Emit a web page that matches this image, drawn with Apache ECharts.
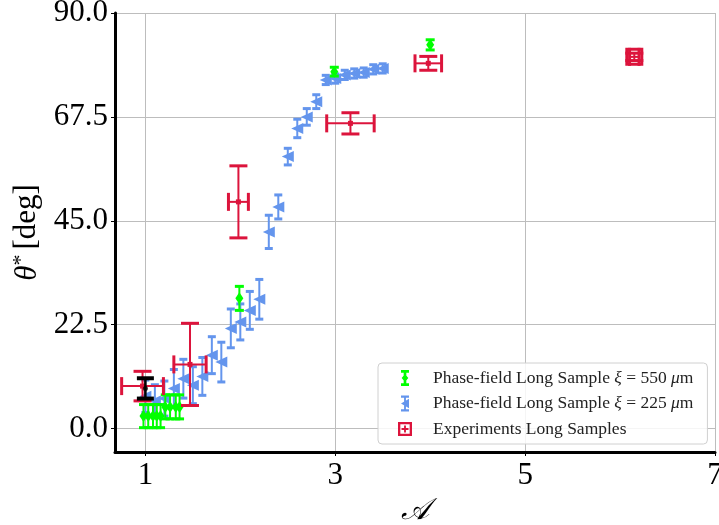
<!DOCTYPE html>
<html lang="en">
<head>
    <meta charset="UTF-8">
    <title>theta vs A</title>
    <script src="https://cdn.jsdelivr.net/npm/echarts@6/dist/echarts.min.js"></script>
    <style>
        body { margin: 0; background: #fff; }
        #main { width: 719px; height: 525px; }
    </style>
</head>
<body>
    <div id="main"></div>
    <script>
        // ---- data ----
        // experiments (crimson): x, y, x-error, y-error
        const expX = [0.97, 1.47, 1.98, 3.16, 3.98, 6.15];
        const expY = [9.2, 13.9, 49.1, 66.1, 79.1, 80.5];
        const expXErr = [0.22, 0.17, 0.105, 0.25, 0.14, 0.05];
        const expYErr = [3.2, 8.9, 7.8, 2.3, 1.5, 0.8];

        // phase-field xi = 550 um (green)
        const pf550X = [0.98, 1.03, 1.08, 1.12, 1.16, 1.21, 1.26, 1.32, 1.36, 1.99, 2.99, 4.0];
        const pf550Y = [2.7, 2.7, 2.7, 2.7, 2.7, 4.7, 4.7, 4.7, 4.7, 28.2, 77.3, 83.1];
        const pf550Err = [2.5, 2.5, 2.5, 2.5, 2.5, 2.6, 2.6, 2.6, 2.6, 2.6, 0.95, 1.1];

        // phase-field xi = 225 um (blue)
        const pf225X = [1.0, 1.1, 1.2, 1.3, 1.4, 1.5, 1.6, 1.7, 1.8, 1.9, 2.0, 2.1, 2.2,
                        2.3, 2.4, 2.5, 2.6, 2.7, 2.8, 2.9, 3.0, 3.1, 3.2, 3.3, 3.4, 3.5];
        const pf225Y = [7.0, 6.0, 6.5, 8.7, 10.8, 9.4, 11.3, 15.9, 14.4, 21.7, 23.1, 25.6, 28.0,
                        42.6, 48.0, 58.9, 65.0, 67.5, 70.8, 75.5, 75.8, 76.6, 76.9, 77.1, 77.8, 78.0];
        const pf225Err = [3.5, 3.5, 3.8, 4.1, 4.2, 4.0, 4.1, 4.0, 4.3, 4.2, 3.9, 4.1, 4.3,
                          3.6, 2.6, 1.8, 2.0, 1.8, 1.5, 1.0, 1.0, 1.0, 1.0, 1.0, 1.0, 1.0];

        // extra black point near A = 1
        const refX = [1.0];
        const refY = [8.7];
        const refErr = [2.2];

        const xTicks = [1, 3, 5, 7];
        const yTicks = [0, 22.5, 45, 67.5, 90];

        const FONT = 'Liberation Serif';
        const GREEN = '#00ff00', BLUE = '#6495ed', RED = '#dc143c';

        function zip(xs, ys, xe, ye) {
            return xs.map((x, i) => [x, ys[i], xe ? xe[i] : 0, ye ? ye[i] : 0]);
        }

        // error bars drawn in data coords via api.coord
        function errBars(color, capHalf, lw, capLw) {
            return function (params, api) {
                const x = api.value(0), y = api.value(1), xe = api.value(2), ye = api.value(3);
                const kids = [];
                const st = { stroke: color, lineWidth: lw };
                const cst = { stroke: color, lineWidth: capLw };
                if (ye > 0) {
                    const t = api.coord([x, y + ye]), b = api.coord([x, y - ye]);
                    kids.push({ type: 'line', shape: { x1: t[0], y1: t[1], x2: b[0], y2: b[1] }, style: st });
                    kids.push({ type: 'line', shape: { x1: t[0] - capHalf, y1: t[1], x2: t[0] + capHalf, y2: t[1] }, style: cst });
                    kids.push({ type: 'line', shape: { x1: b[0] - capHalf, y1: b[1], x2: b[0] + capHalf, y2: b[1] }, style: cst });
                }
                if (xe > 0) {
                    const l = api.coord([x - xe, y]), r = api.coord([x + xe, y]);
                    kids.push({ type: 'line', shape: { x1: l[0], y1: l[1], x2: r[0], y2: r[1] }, style: st });
                    kids.push({ type: 'line', shape: { x1: l[0], y1: l[1] - capHalf, x2: l[0], y2: l[1] + capHalf }, style: cst });
                    kids.push({ type: 'line', shape: { x1: r[0], y1: r[1] - capHalf, x2: r[0], y2: r[1] + capHalf }, style: cst });
                }
                return { type: 'group', children: kids };
            };
        }

        const iconGreen = 'path://M2,0H8V2H2Z M4,2H6V10H4Z M2,10H8V12H2Z M5,3L7.5,6L5,9L2.5,6Z';
        const iconBlue = 'path://M2,0H8V1.6H2Z M4.3,1.6H5.7V10.4H4.3Z M2,10.4H8V12H2Z M2,6L8,2.5L8,9.5Z';
        const iconRed = 'path://M0,0H12V12H0Z M2,2V10H10V2Z M5.2,3H6.8V5.2H9V6.8H6.8V9H5.2V6.8H3V5.2H5.2Z';

        const chart = echarts.init(document.getElementById('main'));

        const option = {
            animation: false,
            backgroundColor: '#fff',
            textStyle: { fontFamily: FONT },
            grid: { left: 115, right: 4, top: 13, bottom: 73, containLabel: false, outerBoundsMode: 'none' },
            legend: {
                orient: 'vertical',
                left: 378,
                top: 363,
                padding: [6, 14, 6, 20],
                itemWidth: 14,
                itemHeight: 16,
                itemGap: 7.5,
                backgroundColor: 'rgba(255,255,255,0.85)',
                borderColor: '#d0d0d0',
                borderWidth: 1,
                borderRadius: 4,
                textStyle: {
                    fontFamily: FONT, fontSize: 17.5, color: '#222', padding: [0, 0, 0, 16],
                    rich: { i: { fontFamily: FONT, fontSize: 17.5, fontStyle: 'italic', color: '#222' } }
                },
                formatter: function (name) {
                    if (name === 'pf550') return 'Phase-field Long Sample {i|ξ} = 550 {i|μ}m';
                    if (name === 'pf225') return 'Phase-field Long Sample {i|ξ} = 225 {i|μ}m';
                    return 'Experiments Long Samples';
                },
                data: [
                    { name: 'pf550', icon: iconGreen, itemStyle: { color: GREEN } },
                    { name: 'pf225', icon: iconBlue, itemStyle: { color: BLUE } },
                    { name: 'exp', icon: iconRed, itemStyle: { color: RED } }
                ]
            },
            xAxis: {
                type: 'value',
                min: 0.68,
                max: 7,
                name: '𝒜',
                nameLocation: 'middle',
                nameGap: 40,
                nameTextStyle: { fontFamily: FONT, fontSize: 30, color: '#000', fontStyle: 'italic' },
                axisLine: { show: true, onZero: false, lineStyle: { color: '#000', width: 3 } },
                axisTick: { show: true, length: 4, inside: false, customValues: xTicks, lineStyle: { color: '#000' } },
                axisLabel: {
                    customValues: xTicks, margin: 8, fontFamily: FONT, fontSize: 31, color: '#000',
                    formatter: v => String(v)
                },
                splitLine: { show: true, customValues: xTicks, lineStyle: { color: '#bdbdbd', width: 1 } }
            },
            yAxis: {
                type: 'value',
                min: -5.07,
                max: 90,
                name: '{i|θ}{s|*}[deg]',
                nameLocation: 'middle',
                nameGap: 63,
                nameRotate: 90,
                nameTextStyle: {
                    fontFamily: FONT, fontSize: 31, color: '#000',
                    rich: {
                        i: { fontFamily: FONT, fontSize: 31, fontStyle: 'italic', color: '#000' },
                        s: { fontFamily: FONT, fontSize: 22, color: '#000', verticalAlign: 'top', padding: [0, 5, 12, 0] }
                    }
                },
                axisLine: { show: true, onZero: false, lineStyle: { color: '#000', width: 3 } },
                axisTick: { show: true, length: 4, customValues: yTicks, lineStyle: { color: '#000' } },
                axisLabel: {
                    customValues: yTicks, margin: 7, fontFamily: FONT, fontSize: 31, color: '#000',
                    formatter: v => v.toFixed(1)
                },
                splitLine: { show: true, customValues: yTicks, lineStyle: { color: '#bdbdbd', width: 1 } }
            },
            series: [
                {
                    name: 'pf225', type: 'custom', silent: true, z: 2,
                    renderItem: errBars(BLUE, 4, 2, 3),
                    encode: { x: 0, y: 1 },
                    itemStyle: { color: BLUE },
                    data: zip(pf225X, pf225Y, null, pf225Err)
                },
                {
                    name: 'pf225', type: 'scatter', z: 3,
                    symbol: 'triangle', symbolRotate: 90, symbolSize: [11, 12],
                    itemStyle: { color: BLUE, opacity: 1 },
                    data: zip(pf225X, pf225Y)
                },
                {
                    name: 'pf550', type: 'custom', silent: true, z: 4,
                    renderItem: errBars(GREEN, 4.5, 2, 3),
                    encode: { x: 0, y: 1 },
                    itemStyle: { color: GREEN },
                    data: zip(pf550X, pf550Y, null, pf550Err)
                },
                {
                    name: 'pf550', type: 'scatter', z: 5,
                    symbol: 'diamond', symbolSize: [8, 12],
                    itemStyle: { color: GREEN, opacity: 1 },
                    data: zip(pf550X, pf550Y)
                },
                {
                    name: 'exp', type: 'scatter', z: 6,
                    symbol: 'rect',
                    itemStyle: { color: RED, opacity: 1 },
                    data: zip(expX, expY).map((d, i) => i === expX.length - 1
                        ? { value: d, symbolSize: 15, itemStyle: { color: '#fff', borderColor: RED, borderWidth: 3 } }
                        : { value: d, symbolSize: 5 })
                },
                {
                    name: 'exp', type: 'custom', silent: true, z: 7,
                    renderItem: errBars(RED, 9, 2, 3),
                    encode: { x: 0, y: 1 },
                    itemStyle: { color: RED },
                    data: zip(expX, expY, expXErr, expYErr)
                },
                {
                    name: 'ref', type: 'custom', silent: true, z: 8,
                    renderItem: errBars('#000', 8.5, 2.5, 4),
                    encode: { x: 0, y: 1 },
                    data: zip(refX, refY, null, refErr)
                },
                {
                    name: 'ref', type: 'scatter', z: 9,
                    symbol: 'circle', symbolSize: 5,
                    itemStyle: { color: '#000' },
                    data: zip(refX, refY)
                }
            ]
        };

        chart.setOption(option);
    </script>
</body>
</html>
